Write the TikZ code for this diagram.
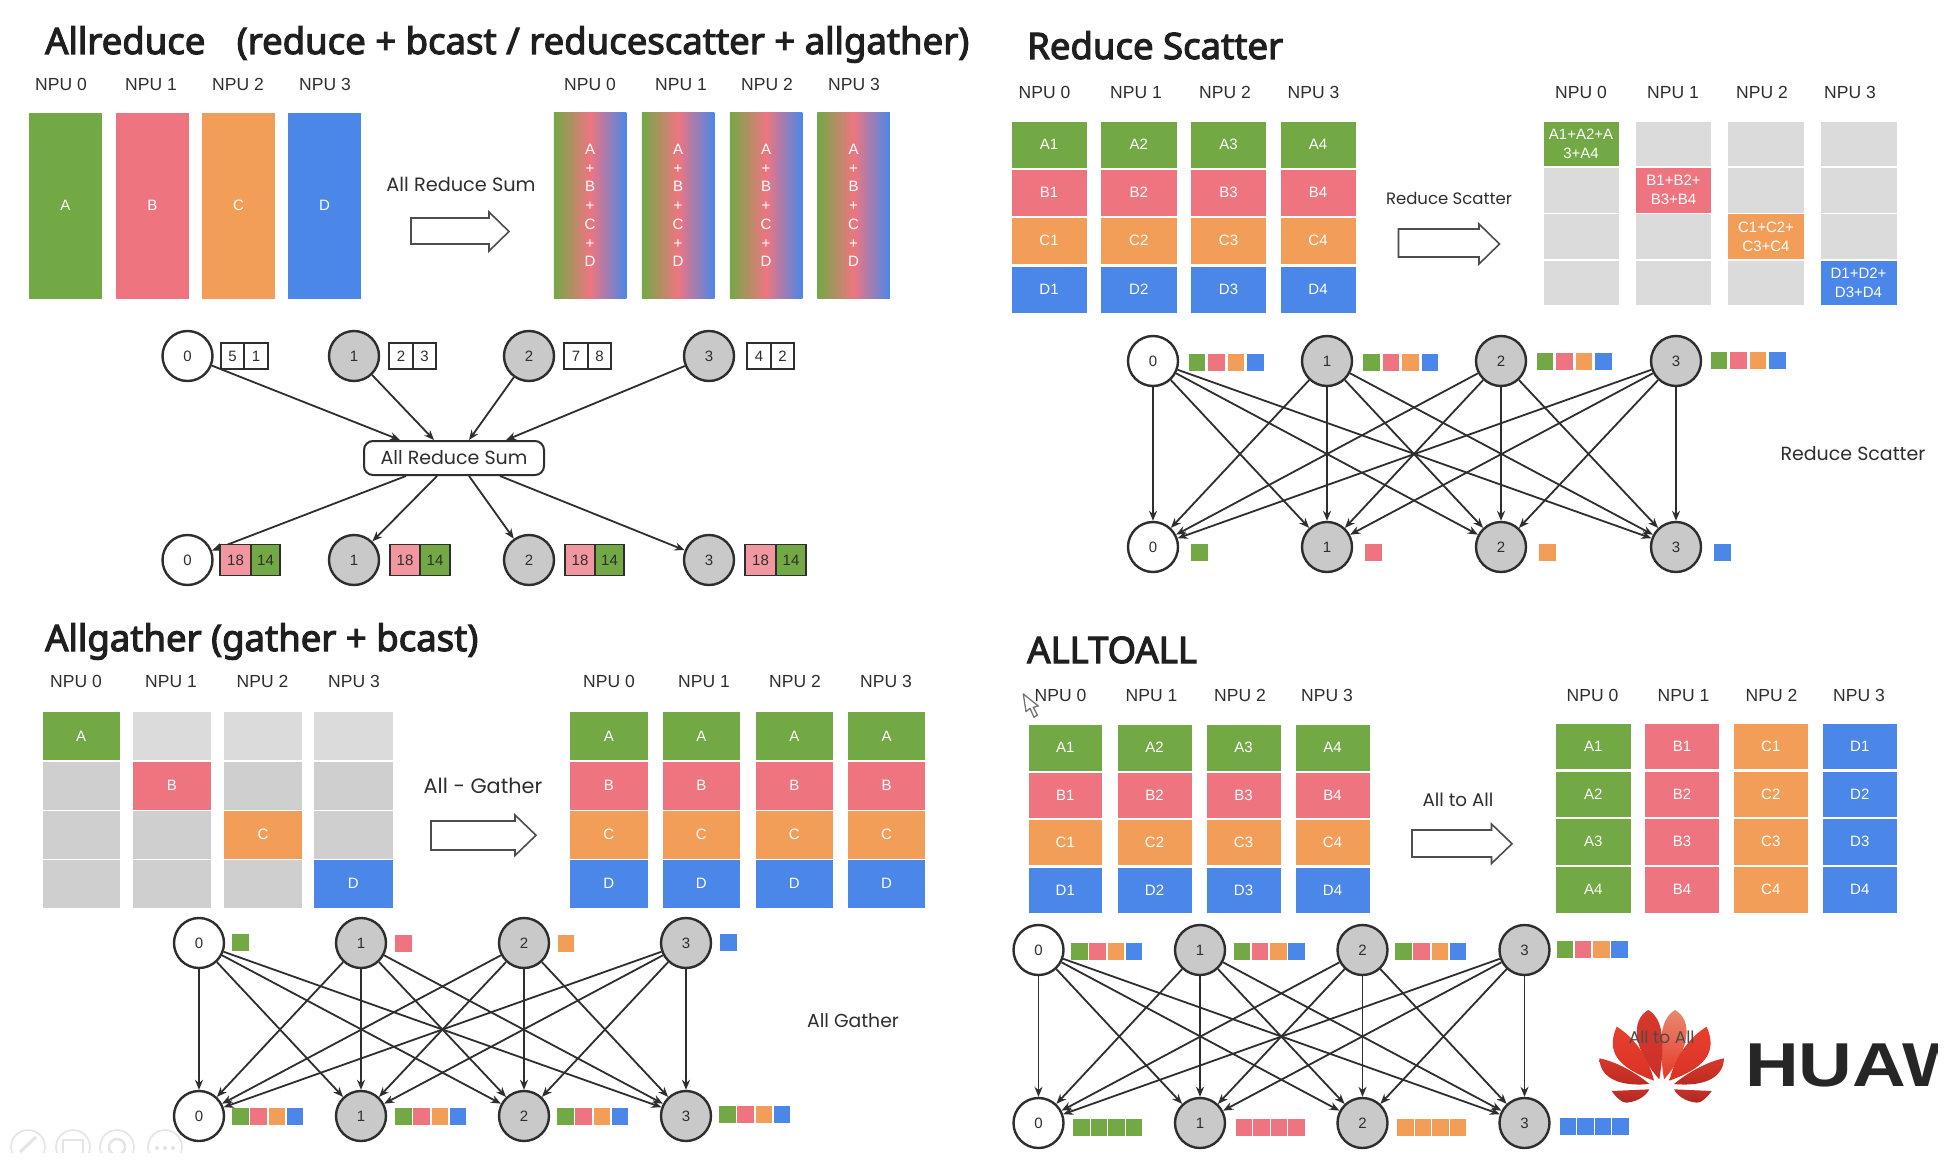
\documentclass[tikz,border=0pt]{standalone}
\usepackage{fontspec}
\setmainfont{Liberation Sans}
\newfontfamily\titlefont{Noto Sans}[FakeBold=3]
\newfontfamily\handfont{Poppins}
\usetikzlibrary{arrows.meta,calc}
\definecolor{cA}{HTML}{72A945}
\definecolor{cB}{HTML}{EE7580}
\definecolor{cC}{HTML}{F39E58}
\definecolor{cD}{HTML}{4B87E9}
\definecolor{gL}{HTML}{DBDBDB}
\definecolor{gM}{HTML}{CFCFCF}
\definecolor{nodeG}{HTML}{C9C9C9}
\definecolor{ink}{HTML}{2E2E2E}
\definecolor{rPale}{HTML}{E98870}
\definecolor{rBright}{HTML}{E53A28}
\definecolor{rMid}{HTML}{D8382C}
\definecolor{rDeep}{HTML}{C9302A}
\definecolor{rHi}{HTML}{E8402E}
\definecolor{rLo}{HTML}{D93226}
\definecolor{rDark}{HTML}{B82A20}
\definecolor{rDarker}{HTML}{A92A20}
\tikzset{
  cellbox/.style={rectangle,inner sep=0pt,outer sep=0pt,align=center,text=white,font=\fontsize{15}{19}\selectfont},
  valbox/.style={rectangle,draw=ink,line width=1.8pt,inner sep=0pt,outer sep=0pt,text=ink,font=\fontsize{15}{18}\selectfont},
  npulab/.style={inner sep=0pt,text depth=0pt,text height=13pt,text=ink,font=\fontsize{17.5}{20}\selectfont},
  titlelab/.style={inner sep=0pt,anchor=base west,text=black!88,font=\titlefont\fontsize{36.5}{40}\selectfont},
  handlab/.style={inner sep=0pt,text=ink,font=\handfont\fontsize{#1}{22}\selectfont},
  npunode/.style={circle,draw=ink,line width=2.4pt,minimum size=50pt,inner sep=0pt,text=ink,font=\fontsize{15}{18}\selectfont},
  edge/.style={draw=ink,line width=1.8pt,-{Stealth[length=10pt,width=8pt]}},
  fatarrow/.style={draw=ink!85,line width=1.6pt,fill=white,line join=miter},
  icon/.style={draw=black!10,line width=1.6pt}
}
% name, x0, y0, x1, y1, colour, text
\newcommand\pcell[7]{\node[cellbox,fill=#6,minimum width={(#4)-(#2)},minimum height={(#5)-(#3)}] (#1) at ({((#2)+(#4))/2},{((#3)+(#5))/2}) {#7};}
% prefix, xa, xb, suffix; rows from \Ya..\Yh
\newcommand\pstack[4]{%
  \pcell{#1a#4}{#2}{\Ya}{#3}{\Yb}{cA}{A#4}
  \pcell{#1b#4}{#2}{\Yc}{#3}{\Yd}{cB}{B#4}
  \pcell{#1c#4}{#2}{\Ye}{#3}{\Yf}{cC}{C#4}
  \pcell{#1d#4}{#2}{\Yg}{#3}{\Yh}{cD}{D#4}}
% prefix, y, four x
\newcommand\npus[6]{\foreach \k/\xx in {0/#3,1/#4,2/#5,3/#6}{\node[npulab] (#1\k) at (\xx,#2) {NPU \k};}}
% xstart,xhead,xend,ytop,ybodytop,ybodybot,ybot
\newcommand\fatarr[7]{\draw[fatarrow] (#1,#5) -- (#2,#5) -- (#2,#4) -- (#3,{((#4)+(#7))/2}) -- (#2,#7) -- (#2,#6) -- (#1,#6) -- cycle;}
% prefix, four x, ytop, ybot
\newcommand\npugraph[7]{%
  \foreach \k/\xx/\fc in {0/#2/white,1/#3/nodeG,2/#4/nodeG,3/#5/nodeG}{%
    \node[npunode,fill=\fc] (#1t\k) at (\xx,#6) {\k};
    \node[npunode,fill=\fc] (#1b\k) at (\xx,#7) {\k};}}
\newcommand\alledges[1]{\foreach \aa in {0,1,2,3}{\foreach \bb in {0,1,2,3}{\draw[edge] (#1t\aa) -- (#1b\bb);}}}
\newcommand\onesq[3]{\fill[#3] (#1,#2) rectangle ++(16.5,17);}
% x, y, pitch
\newcommand\sqs[3]{\onesq{#1}{#2}{cA}\onesq{#1+#3}{#2}{cB}\onesq{#1+2*#3}{#2}{cC}\onesq{#1+3*#3}{#2}{cD}}
\newcommand\sqsame[3]{\foreach \dd in {0,17.6,35.2,52.8}{\fill[#3] ({#1+\dd},#2) rectangle ++(16.6,16.5);}}
\begin{document}
\begin{tikzpicture}[x=1pt,y=-1pt]
\useasboundingbox (0,0) rectangle (1952,1172);
\fill[white] (0,0) rectangle (1952,1172);

% ===== Allreduce =====
\node[titlelab] (title1) at (45,54) {Allreduce\hspace{0.6em} (reduce + bcast / reducescatter + allgather)};
\npus{ra}{83.5}{61}{151}{238}{325}
\npus{rb}{83.5}{590}{681}{767}{854}
\pcell{ral0}{29}{112.5}{102}{298.5}{cA}{A}
\pcell{ral1}{116}{112.5}{189}{298.5}{cB}{B}
\pcell{ral2}{202}{112.5}{275}{298.5}{cC}{C}
\pcell{ral3}{288}{112.5}{361}{298.5}{cD}{D}
\foreach \n/\xc in {0/590,1/678,2/766,3/853.5}{
  \node[cellbox,left color=cA,right color=cD,middle color=cB,minimum width=72.5,minimum height=186,font=\fontsize{15}{18.7}\selectfont] (rar\n) at (\xc,205.5) {A\\+\\B\\+\\C\\+\\D};}
\node[handlab=19.3] (lab1) at (461,184) {All Reduce Sum};
\fatarr{411}{489}{509}{212}{218}{244}{251}
\npugraph{g1}{187.5}{354}{529}{709}{356}{560}
\node[rectangle,rounded corners=9pt,draw=ink,line width=2pt,fill=white,minimum width=180,minimum height=34,inner sep=0pt,text=ink,font=\handfont\fontsize{19}{22}\selectfont] (sum) at (454,458) {All Reduce Sum};
\foreach \k/\dx in {0/-54,1/-20,2/15,3/52}{\draw[edge] (g1t\k) -- ($(sum.north)+(\dx,0)$);}
\foreach \k/\dx in {0/-48,1/-17,2/15,3/46}{\draw[edge] ($(sum.south)+(\dx,0)$) -- (g1b\k);}
\foreach \n/\xa/\xm/\xb/\va/\vb in {0/221/244/268/5/1,1/389/413/436/2/3,2/564/588/611/7/8,3/747/771/794/4/2}{
  \node[valbox,minimum width={\xm-\xa},minimum height=26] (vta\n) at ({(\xa+\xm)/2},356) {\va};
  \node[valbox,minimum width={\xb-\xm},minimum height=26] (vtb\n) at ({(\xm+\xb)/2},356) {\vb};}
\foreach \n/\xa/\xm/\xb in {0/220/251/280,1/390/420/450,2/565/595/624,3/745/776/806}{
  \node[valbox,fill=cB!75!white,minimum width={\xm-\xa},minimum height=31] (vba\n) at ({(\xa+\xm)/2},560) {18};
  \node[valbox,fill=cA,minimum width={\xb-\xm},minimum height=31] (vbb\n) at ({(\xm+\xb)/2},560) {14};}

% ===== Reduce Scatter =====
\node[titlelab] (title2) at (1027,59) {Reduce Scatter};
\npus{sa}{92.5}{1044.5}{1136}{1225}{1313.5}
\npus{sb}{92.5}{1581}{1673}{1762}{1850}
\def\Ya{121.5}\def\Yb{167.5}\def\Yc{170}\def\Yd{215.5}\def\Ye{218}\def\Yf{263.5}\def\Yg{266.5}\def\Yh{312.5}
\pstack{sl}{1011.5}{1086.5}{1}
\pstack{sl}{1101}{1176.5}{2}
\pstack{sl}{1191}{1266}{3}
\pstack{sl}{1280.5}{1355.5}{4}
\foreach \n/\xa/\xb in {0/1543.5/1618.5,1/1636/1711,2/1728/1804,3/1820.5/1896.5}{
  \foreach \r/\ya/\yb in {0/121.5/166,1/167.5/212.5,2/214/259,3/260.5/304.5}{
    \pcell{srg\n\r}{\xa}{\ya}{\xb}{\yb}{gL}{}}}
\pcell{srA}{1543.5}{121.5}{1618.5}{166}{cA}{A1+A2+A\\3+A4}
\pcell{srB}{1636}{167.5}{1711}{212.5}{cB}{B1+B2+\\B3+B4}
\pcell{srC}{1728}{214}{1804}{259}{cC}{C1+C2+\\C3+C4}
\pcell{srD}{1820.5}{260.5}{1896.5}{304.5}{cD}{D1+D2+\\D3+D4}
\node[handlab=16.5] (lab2) at (1449,198) {Reduce Scatter};
\fatarr{1398.5}{1479}{1499.5}{224}{229}{257}{264}
\npugraph{g2}{1153}{1327}{1501}{1676}{361}{547}
\alledges{g2}
\sqs{1188.5}{354}{19.6}\sqs{1363}{354}{19.6}\sqs{1536.5}{353}{19.6}\sqs{1710.5}{352}{19.6}
\onesq{1191}{543.5}{cA}\onesq{1365}{543.5}{cB}\onesq{1539}{543.5}{cC}\onesq{1714}{543.5}{cD}
\node[handlab=19] (lab2b) at (1853,454) {Reduce Scatter};

% ===== Allgather =====
\node[titlelab] (title3) at (45,651) {Allgather (gather + bcast)};
\npus{ga}{681}{76}{171}{262.5}{354}
\npus{gb}{681}{609}{704}{795}{886}
\foreach \n/\xa/\xb in {0/42.5/120,1/133/211,2/224/302,3/314/392.5}{
  \pcell{glg\n0}{\xa}{712}{\xb}{760}{gL}{}
  \pcell{glg\n1}{\xa}{762}{\xb}{809.5}{gM}{}
  \pcell{glg\n2}{\xa}{811}{\xb}{858.5}{gM}{}
  \pcell{glg\n3}{\xa}{860}{\xb}{907.5}{gM}{}}
\pcell{glA}{42.5}{712}{120}{760}{cA}{A}
\pcell{glB}{133}{762}{211}{809.5}{cB}{B}
\pcell{glC}{224}{811}{302}{858.5}{cC}{C}
\pcell{glD}{314}{860}{392.5}{907.5}{cD}{D}
\def\Ya{712}\def\Yb{760}\def\Yc{762}\def\Yd{809.5}\def\Ye{811}\def\Yf{858.5}\def\Yg{860}\def\Yh{907.5}
\foreach \n/\xa/\xb in {0/570/647.5,1/662.5/740,2/756/832.5,3/848/925}{
  \pcell{gra\n}{\xa}{\Ya}{\xb}{\Yb}{cA}{A}
  \pcell{grb\n}{\xa}{\Yc}{\xb}{\Yd}{cB}{B}
  \pcell{grc\n}{\xa}{\Ye}{\xb}{\Yf}{cC}{C}
  \pcell{grd\n}{\xa}{\Yg}{\xb}{\Yh}{cD}{D}}
\node[handlab=20.8] (lab3) at (483,786) {All - Gather};
\fatarr{431}{515}{536}{815}{821}{850}{855.5}
\npugraph{g3}{199}{361}{524}{686}{943}{1116}
\alledges{g3}
\onesq{232}{934}{cA}\onesq{395}{935}{cB}\onesq{557.5}{935}{cC}\onesq{720}{934}{cD}
\sqs{232}{1107.5}{18.3}\sqs{395}{1107.5}{18.3}\sqs{557}{1107.5}{18.3}\sqs{719}{1105.5}{18.3}
\node[handlab=18.8] (lab3b) at (853,1020.5) {All Gather};
\begin{scope}
  \clip (0,1120) rectangle (220,1152);
  \foreach \xx in {28,73,117,165}{\draw[icon] (\xx,1147) circle (17);}
  \draw[icon,line width=3pt] (20,1152) -- (36,1137);
  \draw[icon,line width=2.5pt] (63,1140) rectangle (83,1154);
  \draw[icon,line width=2.5pt] (117,1147) circle (8);
  \foreach \xx in {157,165,173}{\fill[black!10] (\xx,1148) circle (2);}
\end{scope}

% ===== ALLTOALL =====
\node[titlelab] (title4) at (1027,663) {ALLTOALL};
\npus{ta}{695}{1060.5}{1151.5}{1240}{1327}
\npus{tb}{695}{1592.5}{1683.5}{1771.5}{1859}
\def\Ya{725}\def\Yb{770.5}\def\Yc{772.5}\def\Yd{818}\def\Ye{820}\def\Yf{865}\def\Yg{867.5}\def\Yh{913}
\pstack{tl}{1028.5}{1102}{1}
\pstack{tl}{1117.5}{1191.5}{2}
\pstack{tl}{1206.5}{1280.5}{3}
\pstack{tl}{1295.5}{1369.5}{4}
\foreach \n/\xa/\xb/\L/\c in {0/1556/1630.5/A/cA,1/1645/1719/B/cB,2/1734/1807.5/C/cC,3/1822.5/1897/D/cD}{
  \pcell{tr\n1}{\xa}{724}{\xb}{769}{\c}{\L1}
  \pcell{tr\n2}{\xa}{771.5}{\xb}{817}{\c}{\L2}
  \pcell{tr\n3}{\xa}{819}{\xb}{864.5}{\c}{\L3}
  \pcell{tr\n4}{\xa}{867}{\xb}{912.5}{\c}{\L4}}
\node[handlab=18.3] (lab4) at (1458,799.5) {All to All};
\fatarr{1412}{1491.5}{1512}{824}{830}{857}{863.5}
\npugraph{g4}{1038.5}{1200}{1362.5}{1524.5}{950}{1123}
\alledges{g4}
\sqs{1071}{943}{18.3}\sqs{1233.5}{943}{18.3}\sqs{1395}{943}{18.3}\sqs{1556.5}{941}{18.3}
\sqsame{1073}{1119}{cA}\sqsame{1235.5}{1119}{cB}\sqsame{1397}{1119}{cC}\sqsame{1559.5}{1118}{cD}

% cursor
\draw[black!55,line width=1.3pt,fill=white,line join=round] (1023.3,694) -- (1026,711.7) -- (1030,708.3) -- (1034,717.3) -- (1037.3,715) -- (1033.3,707.3) -- (1038.3,706) -- cycle;

% Huawei logo
\begin{scope}[shift={(1661.67,990)},x=0.3333pt,y=-0.3333pt]
  \foreach \s/\topc/\botc in {1/rPale/rBright,-1/rMid/rDeep}{
  \begin{scope}[xscale=\s]
    \shade[top color=\topc,bottom color=\botc] (7,268) .. controls (-8,170) and (-10,90) .. (40,60) .. controls (95,90) and (85,180) .. (7,268) -- cycle;
    \shade[top color=rHi,bottom color=rLo] (23,272) .. controls (40,200) and (85,140) .. (135,110) .. controls (170,190) and (125,235) .. (23,272) -- cycle;
    \shade[top color=rMid,bottom color=rDark] (37,282) .. controls (75,250) and (135,215) .. (187,205) .. controls (185,270) and (115,290) .. (37,282) -- cycle;
    \shade[top color=rDeep,bottom color=rDarker] (37,298) -- (150,303) .. controls (135,325) and (115,340) .. (105,338) .. controls (70,335) and (45,315) .. (37,298) -- cycle;
  \end{scope}}
\end{scope}
\node[handlab=17,text=black!70] (lab4b) at (1661.7,1037) {All to All};
\begin{scope}
  \clip (1700,1000) rectangle (1937,1120);
  \node[inner sep=0pt,anchor=base west,xscale=1.2,text=black!85,font=\bfseries\fontsize{62}{70}\selectfont] (huawei) at (1745,1086.7) {HUAW};
\end{scope}
\end{tikzpicture}
\end{document}
